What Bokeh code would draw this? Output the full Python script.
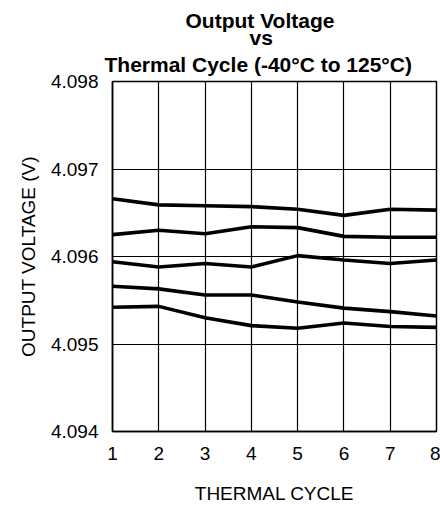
from bokeh.plotting import figure
from bokeh.models import FixedTicker, NumeralTickFormatter, Range1d, Title
from bokeh.embed import file_html
from bokeh.resources import INLINE

cycles = [1, 2, 3, 4, 5, 6, 7, 8]
s1 = [4.09666, 4.09659, 4.09658, 4.09657, 4.09654, 4.09647, 4.09654, 4.09653]
s2 = [4.09625, 4.09630, 4.09626, 4.09634, 4.09633, 4.09623, 4.09622, 4.09622]
s3 = [4.09594, 4.09588, 4.09592, 4.09588, 4.09601, 4.09596, 4.09592, 4.09596]
s4 = [4.09566, 4.09563, 4.09556, 4.09556, 4.09548, 4.09541, 4.09537, 4.09532]
s5 = [4.09542, 4.09543, 4.09530, 4.09521, 4.09518, 4.09524, 4.09520, 4.09519]
y_ticks = [4.094, 4.095, 4.096, 4.097, 4.098]
title_lines = ["Output Voltage", "vs", "Thermal Cycle (-40°C to 125°C)"]

FONT = "Liberation Sans"

p = figure(width=440, height=506, output_backend="svg", toolbar_location=None,
           x_range=Range1d(1, 8), y_range=Range1d(4.094, 4.098),
           title=title_lines[0])
p.min_border_left = 112
p.min_border_right = 4
p.min_border_bottom = 63
p.min_border_top = 81


def style_title(t, offset, standoff):
    t.align = "left"
    t.offset = offset
    t.standoff = standoff
    t.text_font = FONT
    t.text_font_size = "21px"
    t.text_font_style = "bold"
    t.text_color = "black"


style_title(p.title, 73, -8)
t3 = Title(text=title_lines[2])
style_title(t3, -8, 11)
p.add_layout(t3, "above")
t2 = Title(text=title_lines[1])
style_title(t2, 137, -7)
p.add_layout(t2, "above")

for s in [s1, s2, s3, s4, s5]:
    p.line(cycles, s, line_color="black", line_width=3.6)

p.xaxis.ticker = FixedTicker(ticks=cycles)
p.yaxis.ticker = FixedTicker(ticks=y_ticks)
p.yaxis.formatter = NumeralTickFormatter(format="0.000")

for ax in [p.xaxis[0], p.yaxis[0]]:
    ax.axis_line_color = "black"
    ax.axis_line_width = 1.5
    ax.major_tick_line_color = None
    ax.minor_tick_line_color = None
    ax.major_label_text_font = FONT
    ax.major_label_text_font_size = "19px"
    ax.major_label_text_color = "black"
    ax.axis_label_text_font = FONT
    ax.axis_label_text_font_size = "19px"
    ax.axis_label_text_font_style = "normal"
    ax.axis_label_text_color = "black"

p.xaxis.axis_label = "THERMAL CYCLE"
p.yaxis.axis_label = "OUTPUT VOLTAGE (V)"
p.xaxis.major_label_standoff = 9
p.yaxis.major_label_standoff = 8
p.xaxis.axis_label_standoff = 20
p.yaxis.axis_label_standoff = 9

p.xgrid.grid_line_color = "black"
p.ygrid.grid_line_color = "black"
p.xgrid.grid_line_width = 1.2
p.ygrid.grid_line_width = 1.2
p.xgrid.grid_line_alpha = 1
p.ygrid.grid_line_alpha = 1

p.outline_line_color = "black"
p.outline_line_width = 1.5

open("out.html", "w").write(file_html(p, INLINE))
